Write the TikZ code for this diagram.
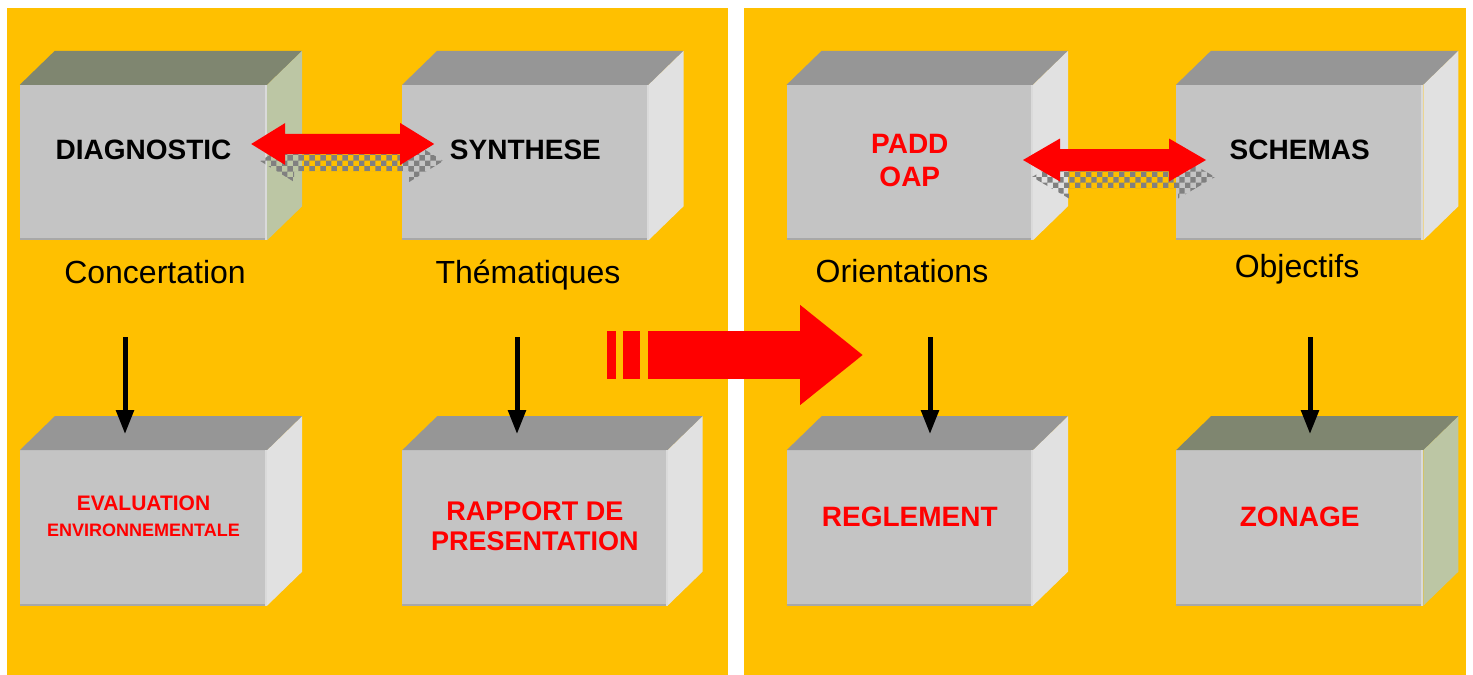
\documentclass[tikz,border=0pt]{standalone}
\usepackage{fontspec}
\setmainfont{Liberation Sans}
\usetikzlibrary{arrows.meta,positioning,patterns}

\definecolor{panel}{RGB}{255,192,0}
\definecolor{front}{RGB}{196,196,196}
\definecolor{topgray}{RGB}{150,150,150}
\definecolor{sidegray}{RGB}{225,225,225}
\definecolor{topgreen}{RGB}{127,134,112}
\definecolor{sidegreen}{RGB}{188,198,164}
\definecolor{arrred}{RGB}{255,0,0}
\definecolor{rimdark}{RGB}{168,168,168}
\definecolor{rimlight}{RGB}{218,218,218}

% top and side faces behind a front face node
\newcommand{\cubefaces}[3]{%
  \fill[#2] (#1.north west) -- ++(35,-34) -- ([shift={(35,-34)}]#1.north east) -- (#1.north east) -- cycle;
  \fill[#3] (#1.north east) -- ++(35,-34) -- ([shift={(35,-34)}]#1.south east) -- (#1.south east) -- cycle;
  \draw[rimdark, line width=2bp] ([yshift=1bp]#1.south west) -- ([yshift=1bp]#1.south east);
  \draw[rimlight, line width=2bp] ([xshift=-1bp]#1.north east) -- ([xshift=-1bp]#1.south east);
}

% double arrow: style, from, to, head length, head half width, shaft half width
\newcommand{\dblarrow}[6]{%
  \fill[#1] (#2) -- ([shift={(#4,-#5)}]#2) -- ([shift={(#4,-#6)}]#2) -- ([shift={(-#4,-#6)}]#3)
    -- ([shift={(-#4,-#5)}]#3) -- (#3) -- ([shift={(-#4,#5)}]#3) -- ([shift={(-#4,#6)}]#3)
    -- ([shift={(#4,#6)}]#2) -- ([shift={(#4,#5)}]#2) -- cycle;
}

\tikzset{
  face/.style={fill=front, inner sep=0pt, minimum width=247bp, minimum height=155bp},
  boxtxt/.style={font=\fontsize{28bp}{33bp}\selectfont\bfseries, inner sep=0pt, align=center},
  redtxt/.style={boxtxt, text=arrred},
  caption/.style={font=\fontsize{32bp}{36bp}\selectfont, inner sep=0pt, anchor=base},
  shade/.style={pattern=checkerboard, pattern color=black!50, transform canvas={shift={(9,17)}}},
  down/.style={->, >={Triangle[width=17bp,length=24bp]}, line width=5bp, black},
}

\begin{document}
\begin{tikzpicture}[x=1bp, y=-1bp]
  \useasboundingbox (0,0) rectangle (1473,675);
  \fill[panel] (7,8) rectangle (728,675);
  \fill[panel] (744,8) rectangle (1466,675);

  % front faces
  \node[face, label={[boxtxt, yshift=12.5bp]center:DIAGNOSTIC}] (diag) at (143.5,162.5) {};
  \node[face, minimum width=246bp, label={[boxtxt, yshift=12.5bp]center:SYNTHESE}] (synth) [right=135bp of diag] {};
  \node[face, minimum width=246bp, label={[redtxt, yshift=2bp]center:PADD\\OAP}] (padd) [right=138bp of synth] {};
  \node[face, label={[boxtxt, yshift=12.5bp]center:SCHEMAS}] (schem) [right=143bp of padd] {};

  \node[face, label={[redtxt, font=\fontsize{21bp}{26bp}\selectfont\bfseries, yshift=12bp]center:{EVALUATION\\\fontsize{18bp}{26bp}\selectfont ENVIRONNEMENTALE}}] (eval) [below=210bp of diag] {};
  \node[face, minimum width=265bp, label={[redtxt, font=\fontsize{27bp}{30bp}\selectfont\bfseries, yshift=1.5bp]center:RAPPORT DE\\PRESENTATION}] (rapp) [below right=210bp and 0bp of synth.south west] {};
  \node[face, minimum width=246bp, label={[redtxt, yshift=11.5bp]center:REGLEMENT}] (regl) [below=210bp of padd] {};
  \node[face, label={[redtxt, yshift=11.5bp]center:ZONAGE}] (zon) [below=210bp of schem] {};

  \cubefaces{diag}{topgreen}{sidegreen}
  \cubefaces{synth}{topgray}{sidegray}
  \cubefaces{padd}{topgray}{sidegray}
  \cubefaces{schem}{topgray}{sidegray}
  \cubefaces{eval}{topgray}{sidegray}
  \cubefaces{rapp}{topgray}{sidegray}
  \cubefaces{regl}{topgray}{sidegray}
  \cubefaces{zon}{topgreen}{sidegreen}

  % captions
  \node[caption] (conc) at (155,283) {Concertation};
  \node[caption] (them) at (528,283) {Thématiques};
  \node[caption] (orie) at (902,282) {Orientations};
  \node[caption] (obj) at (1297,277) {Objectifs};

  % double arrows with their shadows
  \coordinate (a1) at ([xshift=-16bp, yshift=18.5bp]diag.east);
  \coordinate (a2) at ([xshift=32bp, yshift=18.5bp]synth.west);
  \coordinate (b1) at ([xshift=-10bp, yshift=2.5bp]padd.east);
  \coordinate (b2) at ([xshift=30bp, yshift=2.5bp]schem.west);
  \dblarrow{shade}{a1}{a2}{34}{21}{10}
  \dblarrow{shade}{b1}{b2}{37}{21.5}{11}
  \dblarrow{arrred}{a1}{a2}{34}{21}{10}
  \dblarrow{arrred}{b1}{b2}{37}{21.5}{11}

  % down arrows
  \coordinate (d1) at (125,337);
  \coordinate (d2) at (517,337);
  \coordinate (d3) at (930,337);
  \coordinate (d4) at (1310,337);
  \draw[down] (d1) -- ([yshift=16bp]eval.north -| d1);
  \draw[down] (d2) -- ([yshift=16bp]rapp.north -| d2);
  \draw[down] (d3) -- ([yshift=16bp]regl.north -| d3);
  \draw[down] (d4) -- ([yshift=16bp]zon.north -| d4);

  % big arrow between the panels
  \fill[arrred] (607,331) rectangle (616,379);
  \fill[arrred] (623,331) rectangle (640,379);
  \coordinate (big0) at (648,355);
  \coordinate (big1) at (863,355);
  \draw[arrred, line width=48bp, -{Triangle[width=96bp,length=63bp]}] (big0) -- (big1);
\end{tikzpicture}
\end{document}
